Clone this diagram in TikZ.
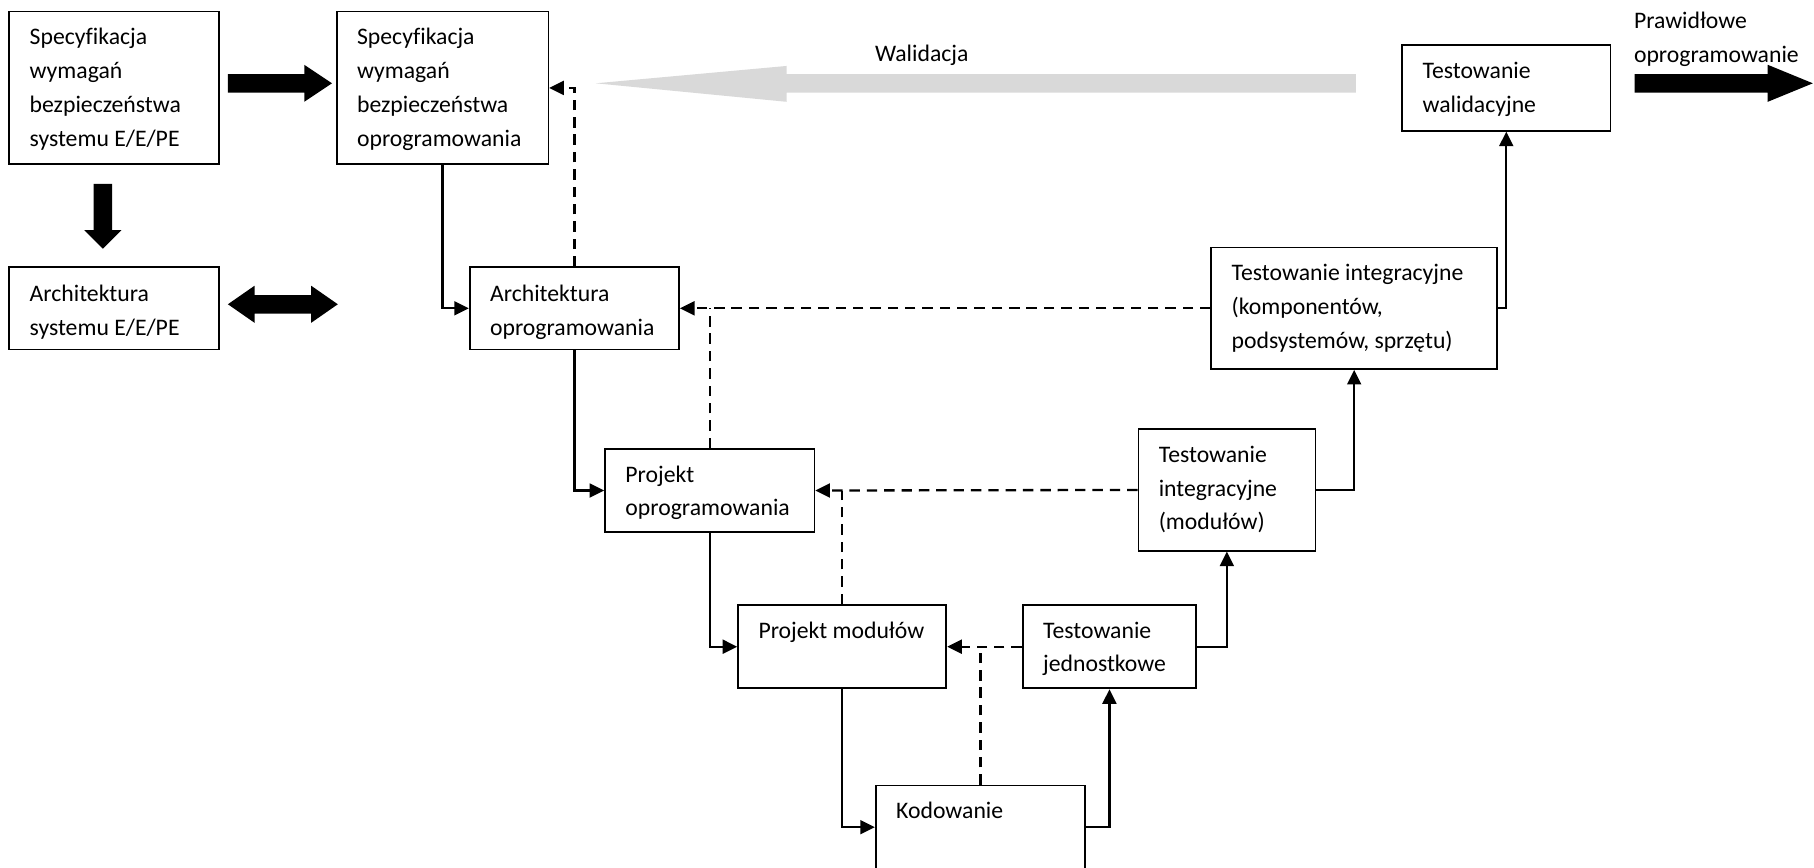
\documentclass[tikz,border=0pt]{standalone}
\usepackage{fontspec}
\setmainfont[Ligatures=NoCommon]{Carlito}
\usetikzlibrary{arrows.meta,calc}
\definecolor{valgray}{HTML}{D9D9D9}
\newcommand\mystrut{\rule{0pt}{9pt}}
\begin{document}
\begin{tikzpicture}[x=0.5pt,y=-0.5pt,
  box/.style={draw, line width=0.75pt, inner sep=0pt},
  txt/.style={anchor=north west, inner sep=0pt, align=left, font=\fontsize{10.25}{14.6}\selectfont},
  conn/.style={line width=1pt, -{Triangle[length=6.3pt,width=6pt]}},
  dconn/.style={line width=1pt, dash pattern=on 4.5pt off 3pt, -{Triangle[length=6.3pt,width=6pt]}},
  dline/.style={line width=1pt, dash pattern=on 4.5pt off 3pt},
  fat/.style={fill=black, draw=none}
]
\clip (0,0) rectangle (1568,750);
\fill[white] (0,0) rectangle (1568,750);

% boxes
\node[box, minimum width=90.5pt, minimum height=66pt] (A) at (98.5,76) {};
\node[box, minimum width=91.5pt, minimum height=66pt] (B) at (382.5,76) {};
\node[box, minimum width=90.5pt, minimum height=35.5pt] (C) at (98.5,266.5) {};
\node[box, minimum width=90.5pt, minimum height=35.5pt] (D) at (496.5,266.5) {};
\node[box, minimum width=90.5pt, minimum height=36pt] (E) at (613.5,424) {};
\node[box, minimum width=90pt, minimum height=36pt] (F) at (728,559) {};
\node[box, minimum width=90.5pt, minimum height=36pt] (G) at (847.5,715) {};
\node[box, minimum width=75pt, minimum height=36pt] (H) at (959,559) {};
\node[box, minimum width=76.5pt, minimum height=52.5pt] (I) at (1060.5,423.5) {};
\node[box, minimum width=123.5pt, minimum height=52.5pt] (J) at (1170.5,266.5) {};
\node[box, minimum width=90pt, minimum height=37pt] (K) at (1302,76) {};

% texts
\node[txt] (tA) at ($(A.north west)+(18,11)$) {\mystrut Specyfikacja\\wymagań\\bezpieczeństwa\\systemu E/E/PE};
\node[txt] (tB) at ($(B.north west)+(18,11)$) {\mystrut Specyfikacja\\wymagań\\bezpieczeństwa\\oprogramowania};
\node[txt] (tC) at ($(C.north west)+(18,12)$) {\mystrut Architektura\\systemu E/E/PE};
\node[txt] (tD) at ($(D.north west)+(18,12)$) {\mystrut Architektura\\oprogramowania};
\node[txt] (tE) at ($(E.north west)+(18,11)$) {\mystrut Projekt\\oprogramowania};
\node[txt] (tF) at ($(F.north west)+(18,11)$) {\mystrut Projekt modułów};
\node[txt] (tG) at ($(G.north west)+(18,11)$) {\mystrut Kodowanie};
\node[txt] (tH) at ($(H.north west)+(18,11)$) {\mystrut Testowanie\\jednostkowe};
\node[txt] (tI) at ($(I.north west)+(18,11)$) {\mystrut Testowanie\\integracyjne\\(modułów)};
\node[txt] (tJ) at ($(J.north west)+(18,11)$) {\mystrut Testowanie integracyjne\\(komponentów,\\podsystemów, sprzętu)};
\node[txt] (tK) at ($(K.north west)+(18,11)$) {\mystrut Testowanie\\walidacyjne};
\node[txt] (tP) at (1412,6.5) {\mystrut Prawidłowe\\oprogramowanie};
\node[txt] (tW) at (756,35) {\mystrut Walidacja};

% fat arrows
\path[fat] (197,64) -- (263,64) -- (263,56) -- (287,72) -- (263,88) -- (263,80) -- (197,80) -- cycle;
\path[fat] (81,159) -- (97,159) -- (97,199) -- (105,199) -- (89,215) -- (73,199) -- (81,199) -- cycle;
\path[fat] (197,263) -- (220,247) -- (220,255) -- (269,255) -- (269,247) -- (292,263) -- (269,279) -- (269,271) -- (220,271) -- (220,279) -- cycle;
\path[fat] (1413,64) -- (1528,64) -- (1528,56) -- (1567,72) -- (1528,88) -- (1528,80) -- (1413,80) -- cycle;
\fill[valgray] (515,72) -- (680,57) -- (680,64) -- (1172,64) -- (1172,80) -- (680,80) -- (680,88) -- cycle;

% solid connectors
\draw[conn] (B.south) |- (D.west);
\draw[conn] (D.south) |- (E.west);
\draw[conn] (E.south) |- (F.west);
\draw[conn] (F.south) |- (G.west);
\draw[conn] (G.east) -| (H.south);
\draw[conn] (H.east) -| (I.south);
\draw[conn] (I.east) -| (J.south);
\draw[conn] (J.east) -| (K.south);

% dashed connectors
\draw[dconn] (D.north) |- (B.east);
\draw[dconn] (J.west) -- (D.east);
\draw[dline] (E.north) -- (E.north |- D.east);
\draw[dconn] (I.west) -- (E.east);
\draw[dline] (F.north) -- (F.north |- E.east);
\draw[dconn] (H.west) -- (F.east);
\draw[dline] (G.north) -- (G.north |- F.east);
\end{tikzpicture}
\end{document}
